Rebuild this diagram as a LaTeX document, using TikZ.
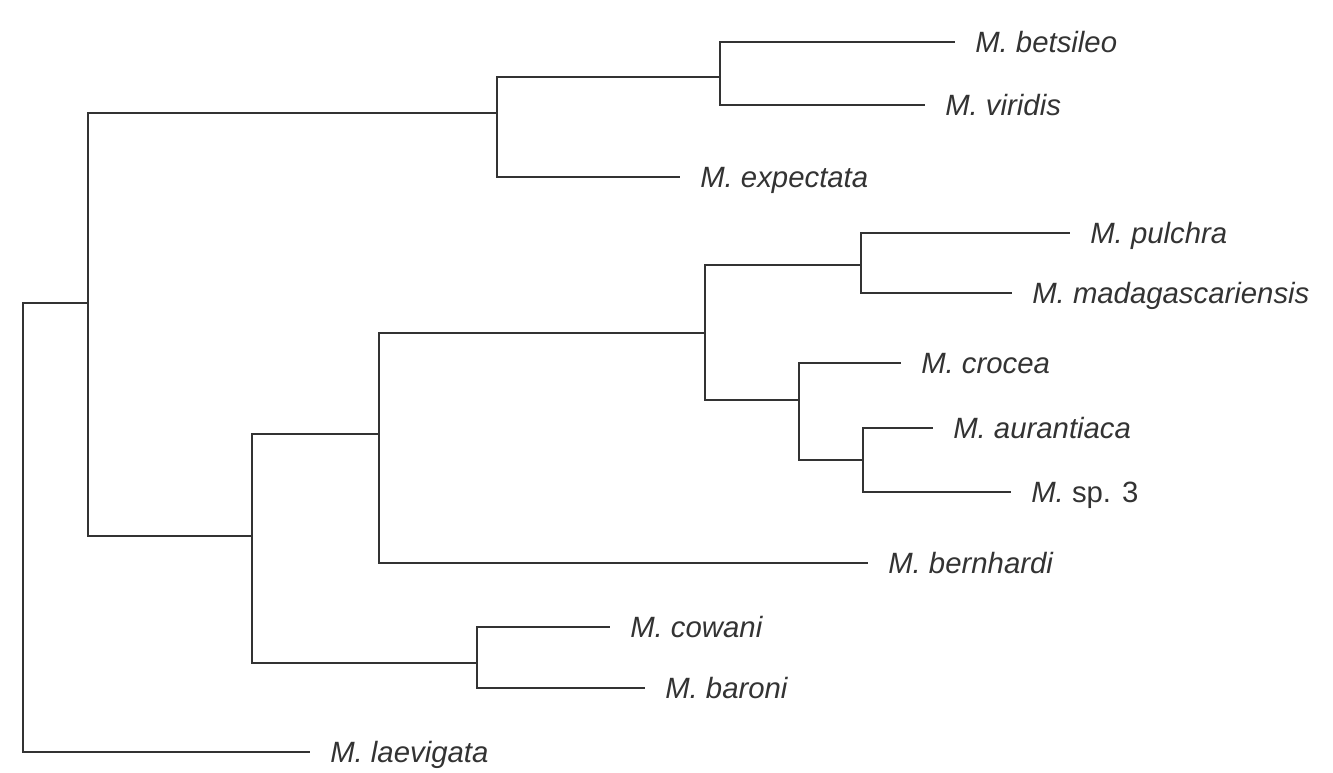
\documentclass[tikz,border=0pt]{standalone}
\usepackage{fontspec}
\setmainfont{Liberation Sans}
\usepackage{tikz}

\begin{document}
\begin{tikzpicture}[x=0.75pt, y=-0.75pt,
          taxon/.style = {anchor=west, inner xsep=15pt, inner ysep=0pt,
                          text height=15.8pt, text depth=0pt, text=black!80,
                          font=\fontsize{22}{24}\selectfont\itshape},
          branch/.style = {line width=1.4pt, draw=black!80}]
        \useasboundingbox (0,0) rectangle (1333,773);
        % inner nodes
        \coordinate (r) at (23,400);
        \coordinate (n1) at (88,303);
        \coordinate (n2) at (497,113);
        \coordinate (n4) at (720,77);
        \coordinate (n3) at (252,536);
        \coordinate (n5) at (379,434);
        \coordinate (n7) at (705,333);
        \coordinate (n8) at (861,265);
        \coordinate (n9) at (799,400);
        \coordinate (n10) at (863,460);
        \coordinate (n6) at (477,663);
        % tips
        \node[taxon] (betsileo) at (955,42) {M. betsileo};
        \node[taxon] (viridis) at (925,105) {M. viridis};
        \node[taxon] (expectata) at (680,177) {M. expectata};
        \node[taxon] (pulchra) at (1070,233) {M. pulchra};
        \node[taxon] (madag) at (1012,293) {M. madagascariensis};
        \node[taxon] (crocea) at (901,363) {M. crocea};
        \node[taxon] (aurant) at (933,428) {M. aurantiaca};
        \node[taxon] (sp3) at (1011,492) {M. {\upshape sp. 3}};
        \node[taxon] (bernhardi) at (868,563) {M. bernhardi};
        \node[taxon] (cowani) at (610,627) {M. cowani};
        \node[taxon] (baroni) at (645,688) {M. baroni};
        \node[taxon] (laevigata) at (310,752) {M. laevigata};
        \foreach \a/\b in {r/n1, r/laevigata.west,
                           n1/n2, n1/n3,
                           n2/n4, n2/expectata.west,
                           n4/betsileo.west, n4/viridis.west,
                           n3/n5, n3/n6,
                           n5/n7, n5/bernhardi.west,
                           n7/n8, n7/n9,
                           n8/pulchra.west, n8/madag.west,
                           n9/crocea.west, n9/n10,
                           n10/aurant.west, n10/sp3.west,
                           n6/cowani.west, n6/baroni.west}
                 {
                   \draw[branch] (\a) |- (\b);
                 }
      \end{tikzpicture}
\end{document}
